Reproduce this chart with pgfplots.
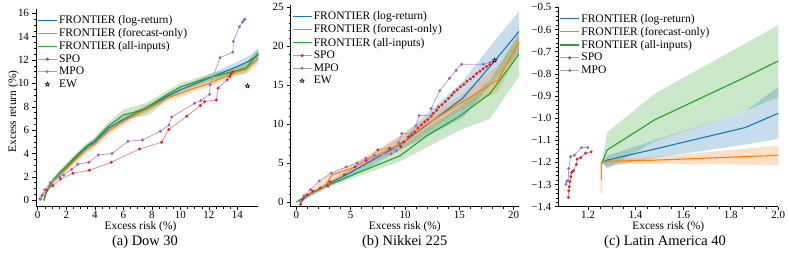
\documentclass[border=0pt]{standalone}
\usepackage{fontspec}
\setmainfont{Liberation Serif}
\usepackage{pgfplots}
\pgfplotsset{compat=1.18}
\definecolor{tblue}{HTML}{1F77B4}
\definecolor{torange}{HTML}{FF7F0E}
\definecolor{tgreen}{HTML}{2CA02C}
\definecolor{tred}{HTML}{D62728}
\definecolor{tpurple}{HTML}{9467BD}
\pgfdeclareplotmark{ewstar}{%
 \pgfpathmoveto{\pgfpointpolar{90}{\pgfplotmarksize}}%
 \pgfpathlineto{\pgfpointpolar{126}{0.42\pgfplotmarksize}}%
 \pgfpathlineto{\pgfpointpolar{162}{\pgfplotmarksize}}%
 \pgfpathlineto{\pgfpointpolar{198}{0.42\pgfplotmarksize}}%
 \pgfpathlineto{\pgfpointpolar{234}{\pgfplotmarksize}}%
 \pgfpathlineto{\pgfpointpolar{270}{0.42\pgfplotmarksize}}%
 \pgfpathlineto{\pgfpointpolar{306}{\pgfplotmarksize}}%
 \pgfpathlineto{\pgfpointpolar{342}{0.42\pgfplotmarksize}}%
 \pgfpathlineto{\pgfpointpolar{18}{\pgfplotmarksize}}%
 \pgfpathlineto{\pgfpointpolar{54}{0.42\pgfplotmarksize}}%
 \pgfpathclose\pgfusepathqfillstroke}
\pgfplotsset{
 mystyle/.style={
  scale only axis,
  axis x line*=bottom, axis y line*=left,
  axis line style={-, line width=0.6pt},
  tick align=outside,
  major tick length=3.5bp, minor tick length=2bp,
  every tick/.style={black, line width=0.5pt},
  tick label style={font=\fontsize{11}{13}\selectfont},
  xticklabel style={inner sep=1pt},
  /pgf/number format/assume math mode=true,
  label style={font=\fontsize{11.5}{13}\selectfont},
  xlabel style={at={(axis description cs:0.5,0)}, anchor=base, inner sep=0pt, yshift=-23bp},
  legend style={at={(0.005,0.975)}, anchor=north west, draw=none, fill=none,
    font=\fontsize{11.6}{13.5}\selectfont, inner sep=0pt, row sep=0.3bp,
    nodes={inner sep=1.6bp}},
  legend cell align=left,
  legend image code/.code={\draw[mark repeat=2,mark phase=2,##1] plot coordinates {(0bp,0bp) (9.5bp,0bp) (19bp,0bp)};},
 },
 fr/.style={line width=1.15pt},
 band/.style={fill=#1, fill opacity=0.25, draw=none, forget plot},
 spo/.style={color=tred!55, line width=0.75pt, mark=*, mark size=1.1pt, mark options={fill=tred, draw=tred}},
 mpo/.style={color=tpurple!70, line width=0.75pt, mark=*, mark size=1.1pt, mark options={fill=tpurple, draw=tpurple}},
 ew/.style={only marks, mark=ewstar, mark size=2.3pt, mark options={fill=gray!25, draw=black, line width=0.5pt}},
}
\begin{document}
\begin{tikzpicture}
\path[use as bounding box] (0,0) rectangle (789bp,253bp);
% ---------------- (a) Dow 30
\begin{axis}[mystyle, at={(36bp,46.3bp)}, anchor=south west,
  width=222.3bp, height=198.1bp,
  xmin=-0.12, xmax=15.46, ymin=-0.55, ymax=16.4,
  xtick={0,2,...,14}, ytick={0,2,...,16}, minor x tick num=3, minor y tick num=3,
  xlabel={Excess risk (\%)}, ylabel={Excess return (\%)},
  xlabel style={at={(axis description cs:0.47,0)}},
  ylabel style={at={(axis description cs:0,0.48)}, anchor=south, yshift=14bp}]
\addplot[band=tblue] coordinates {(0.42,0.1)(0.6,0.85)(1.0,1.75)(1.5,2.45)(2.0,3.05)(2.5,3.7)(3.0,4.3)(3.5,4.85)(4.0,5.25)(4.5,5.85)(5.0,6.45)(6.0,7.15)(7.0,7.75)(8.0,8.35)(9.0,9.1)(10.0,9.7)(11.0,10.2)(12.0,10.75)(13.0,11.3)(14.0,11.85)(14.8,12.35)(15.46,12.9)
 (15.46,12.0)(14.8,11.45)(14.0,11.05)(13.0,10.6)(12.0,10.15)(11.0,9.7)(10.0,9.2)(9.0,8.6)(8.0,7.85)(7.0,7.25)(6.0,6.65)(5.0,5.95)(4.5,5.35)(4.0,4.75)(3.5,4.35)(3.0,3.8)(2.5,3.2)(2.0,2.55)(1.5,1.95)(1.0,1.35)(0.6,0.55)(0.42,-0.1)};
\addplot[band=torange] coordinates {(0.42,0.1)(0.6,0.8)(1.0,1.7)(1.5,2.4)(2.0,2.95)(2.5,3.6)(3.0,4.15)(3.5,4.7)(4.0,5.1)(4.5,5.7)(5.0,6.25)(6.0,7.05)(7.0,7.75)(8.0,8.35)(9.0,9.0)(10.0,9.45)(11.0,9.9)(12.0,10.3)(13.0,10.8)(14.0,11.35)(14.6,11.6)(15.46,12.55)
 (15.46,11.65)(14.6,10.8)(14.0,10.65)(13.0,10.2)(12.0,9.7)(11.0,9.3)(10.0,8.85)(9.0,8.4)(8.0,7.75)(7.0,7.15)(6.0,6.45)(5.0,5.65)(4.5,5.1)(4.0,4.5)(3.5,4.1)(3.0,3.55)(2.5,3.0)(2.0,2.45)(1.5,1.9)(1.0,1.3)(0.6,0.5)(0.42,-0.1)};
\addplot[band=tgreen] coordinates {(0.45,0.1)(0.6,0.85)(1.0,1.8)(1.5,2.55)(2.0,3.15)(2.5,3.8)(3.0,4.4)(3.5,4.95)(4.0,5.4)(4.5,6.1)(5.0,6.75)(6.0,7.75)(7.0,8.1)(7.5,8.3)(8.0,8.6)(9.0,9.35)(10.0,10.0)(11.0,10.4)(12.0,10.8)(13.0,11.1)(14.0,11.45)(14.6,11.7)(15.46,13.05)
 (15.46,12.15)(14.6,10.9)(14.0,10.75)(13.0,10.5)(12.0,10.2)(11.0,9.8)(10.0,9.4)(9.0,8.6)(8.0,7.5)(7.5,7.2)(7.0,7.15)(6.0,6.85)(5.0,6.05)(4.5,5.5)(4.0,4.8)(3.5,4.45)(3.0,3.9)(2.5,3.3)(2.0,2.65)(1.5,2.05)(1.0,1.4)(0.6,0.55)(0.45,-0.1)};
\addplot[fr, tblue] coordinates {(0.42,0.0)(0.6,0.7)(1.0,1.55)(1.5,2.2)(2.0,2.8)(2.5,3.45)(3.0,4.05)(3.5,4.6)(4.0,5.0)(4.5,5.6)(5.0,6.2)(6.0,6.9)(7.0,7.5)(8.0,8.1)(9.0,8.85)(10.0,9.45)(11.0,9.95)(12.0,10.45)(13.0,10.95)(14.0,11.45)(14.8,11.9)(15.46,12.45)};
\addlegendentry{FRONTIER (log-return)}
\addplot[fr, torange] coordinates {(0.42,0.0)(0.6,0.65)(1.0,1.5)(1.5,2.15)(2.0,2.7)(2.5,3.3)(3.0,3.85)(3.5,4.4)(4.0,4.8)(4.5,5.4)(5.0,5.95)(6.0,6.75)(7.0,7.45)(8.0,8.05)(9.0,8.7)(10.0,9.15)(11.0,9.6)(12.0,10.0)(13.0,10.5)(14.0,11.0)(14.6,11.2)(15.46,12.1)};
\addlegendentry{FRONTIER (forecast-only)}
\addplot[fr, tgreen] coordinates {(0.45,0.0)(0.6,0.7)(1.0,1.6)(1.5,2.3)(2.0,2.9)(2.5,3.55)(3.0,4.15)(3.5,4.7)(4.0,5.1)(4.5,5.8)(5.0,6.4)(6.0,7.3)(7.0,7.6)(7.5,7.8)(8.0,8.2)(9.0,9.0)(10.0,9.7)(11.0,10.1)(12.0,10.5)(13.0,10.8)(14.0,11.1)(14.6,11.3)(15.46,12.6)};
\addlegendentry{FRONTIER (all-inputs)}
\addplot[spo] coordinates {(0.16,0.1)(0.3,0.4)(0.64,0.88)(1.06,1.25)(1.6,1.82)(2.47,2.31)(3.62,2.57)(5.15,3.25)(7.13,4.39)(8.68,4.96)(9.18,6.05)(10.45,7.19)(11.39,8.1)(11.69,8.44)(12.52,8.58)(12.64,9.6)(13.27,10.3)(13.46,10.6)(13.55,10.8)(13.65,11.0)};
\addlegendentry{SPO}
\addplot[mpo] coordinates {(0.2,0.1)(0.33,0.45)(0.5,0.9)(0.87,1.5)(1.53,2.0)(1.81,2.17)(2.38,2.65)(2.8,3.08)(3.58,3.25)(4.24,3.88)(5.2,4.0)(6.33,5.05)(7.34,5.16)(8.59,5.9)(9.2,6.44)(9.39,7.13)(10.99,8.3)(11.44,8.53)(12.05,9.07)(12.08,9.9)(12.78,12.2)(13.67,12.66)(13.71,13.6)(14.14,14.85)(14.35,15.25)(14.46,15.43)(14.53,15.5)};
\addlegendentry{MPO}
\addplot[ew] coordinates {(14.7,9.78)};
\addlegendentry{EW}
\end{axis}
% ---------------- (b) Nikkei 225
\begin{axis}[mystyle, at={(290.7bp,46.3bp)}, anchor=south west,
  width=228.3bp, height=201.7bp,
  xmin=-0.52, xmax=20.49, ymin=-0.6, ymax=25.3,
  xtick={0,5,...,20}, ytick={0,5,...,25}, minor x tick num=4, minor y tick num=4,
  xlabel={Excess risk (\%)}]
\addplot[band=tblue] coordinates {(0.5,0.4)(3,2.7)(5,4.3)(10,8.8)(15.3,15.5)(18.3,20.8)(20.49,24.5)(20.49,19.2)(18.3,15.8)(15.3,10.8)(10,7.0)(5,3.2)(3,2.0)(0.5,0)};
\addplot[band=torange] coordinates {(0.5,0.4)(3.3,3.9)(5,4.8)(8,7.2)(10,9.0)(15,13.6)(18.55,17.5)(20.49,21.8)(20.49,19.2)(18.55,14.2)(15,11.7)(10,7.1)(5,3.8)(3.3,3.0)(0.5,0.1)};
\addplot[band=tgreen] coordinates {(0,0.1)(3,2.5)(9.5,7.0)(12,9.5)(15,12.2)(17.8,15.6)(20.49,21.5)(20.49,16.1)(17.8,10.7)(15,9.2)(9.5,5.2)(3,2.0)(0,-0.1)};
\addplot[fr, tblue] coordinates {(0.5,0.2)(1,0.8)(2,1.6)(3,2.4)(5,3.8)(7,5.4)(9,6.9)(10,7.8)(12,9.9)(15.3,13.3)(18.3,18.2)(20.49,21.9)};
\addlegendentry{FRONTIER (log-return)}
\addplot[fr, torange] coordinates {(0.5,0.3)(1,0.9)(2,1.5)(2.7,2.2)(3.3,3.5)(5,4.3)(7,5.7)(9,7.1)(10,7.9)(12,10.0)(15,12.6)(18.55,15.7)(20.49,20.5)};
\addlegendentry{FRONTIER (forecast-only)}
\addplot[fr, tgreen] coordinates {(0,0)(1.5,1.3)(3,2.2)(5,3.4)(9.5,5.9)(12,8.5)(15,11.0)(17.8,13.9)(20.49,19.0)};
\addlegendentry{FRONTIER (all-inputs)}
\addplot[spo] coordinates {(0.4,-0.3)(0.55,0.3)(0.7,0.6)(1.0,0.9)(1.5,1.4)(2.2,1.8)(2.9,2.05)(3.1,2.6)(4.4,3.5)(5.4,4.5)(6.4,5.3)(7.5,6.7)(8.6,6.9)(9.6,7.1)(9.9,7.7)(10.3,8.4)(10.6,8.6)(10.9,9.0)(11.2,9.5)(11.5,9.9)(11.8,10.3)(12.1,10.6)(12.4,11.0)(12.6,11.4)(12.9,11.8)(13.1,12.2)(13.4,12.5)(13.7,12.9)(14.0,13.3)(14.3,13.7)(14.5,14.1)(14.8,14.4)(15.1,14.8)(15.4,15.1)(15.7,15.5)(16.0,15.8)(16.3,16.1)(16.6,16.5)(16.9,16.8)(17.2,17.1)(17.5,17.4)(17.8,17.7)(18.1,18.0)(18.3,18.2)};
\addlegendentry{SPO}
\addplot[mpo] coordinates {(0.4,0.0)(0.7,0.8)(1.3,1.6)(2.1,2.7)(3.2,3.7)(4.6,4.5)(5.6,5.0)(6.4,5.6)(7.2,6.0)(8.7,6.2)(9.2,6.6)(9.4,7.6)(9.7,8.8)(10.6,8.8)(11.0,9.8)(11.3,11.1)(12.4,11.1)(12.4,12.0)(13.2,14.3)(14.1,15.9)(14.7,16.9)(15.2,17.7)(17.2,17.7)(17.8,17.9)(18.3,18.2)};
\addlegendentry{MPO}
\addplot[ew] coordinates {(18.25,18.2)};
\addlegendentry{EW}
\end{axis}
% ---------------- (c) Latin America 40
\begin{axis}[mystyle, at={(558.3bp,46.3bp)}, anchor=south west,
  width=220bp, height=199.4bp,
  xmin=1.075, xmax=2.0, ymin=-1.4, ymax=-0.5,
  xtick={1.2,1.4,1.6,1.8,2.0}, minor x tick num=3,
  xticklabel style={/pgf/number format/.cd, fixed, fixed zerofill, precision=1},
  ytick={-1.4,-1.3,-1.2,-1.1,-1.0,-0.9,-0.8,-0.7,-0.6,-0.5},
  yticklabels={−1.4,−1.3,−1.2,−1.1,−1.0,−0.9,−0.8,−0.7,−0.6,−0.5},
  minor y tick num=4,
  xlabel={Excess risk (\%)}]
\addplot[band=tgreen] coordinates {(1.259,-1.2)(1.28,-1.065)(1.48,-0.89)(1.86,-0.664)(2.0,-0.581)(2.0,-0.904)(1.86,-0.968)(1.48,-1.105)(1.28,-1.228)};
\addplot[band=tblue] coordinates {(1.259,-1.2)(1.28,-1.17)(1.48,-1.10)(1.86,-0.97)(2.0,-0.858)(2.0,-1.094)(1.86,-1.12)(1.48,-1.18)(1.28,-1.22)};
\addplot[band=torange] coordinates {(1.252,-1.2)(1.26,-1.19)(1.48,-1.175)(2.0,-1.124)(2.0,-1.212)(1.48,-1.205)(1.26,-1.21)(1.26,-1.34)(1.252,-1.34)};
\addplot[fr, tblue] coordinates {(1.259,-1.2)(1.28,-1.19)(1.48,-1.14)(1.86,-1.043)(2.0,-0.978)};
\addlegendentry{FRONTIER (log-return)}
\addplot[fr, torange] coordinates {(1.256,-1.28)(1.256,-1.2)(1.28,-1.195)(1.48,-1.19)(2.0,-1.168)};
\addlegendentry{FRONTIER (forecast-only)}
\addplot[fr, tgreen] coordinates {(1.259,-1.2)(1.28,-1.144)(1.48,-1.008)(1.86,-0.816)(2.0,-0.742)};
\addlegendentry{FRONTIER (all-inputs)}
\addplot[spo] coordinates {(1.117,-1.358)(1.119,-1.328)(1.121,-1.31)(1.124,-1.287)(1.128,-1.264)(1.131,-1.245)(1.138,-1.237)(1.151,-1.209)(1.154,-1.185)(1.169,-1.179)(1.19,-1.158)(1.213,-1.152)};
\addlegendentry{SPO}
\addplot[mpo] coordinates {(1.107,-1.299)(1.111,-1.285)(1.116,-1.283)(1.119,-1.228)(1.127,-1.174)(1.142,-1.168)(1.173,-1.133)(1.199,-1.133)};
\addlegendentry{MPO}
\end{axis}
\node[font=\fontsize{14.5}{16}\selectfont, anchor=base] at (145bp,7.6bp) {(a) Dow 30};
\node[font=\fontsize{14.5}{16}\selectfont, anchor=base] at (404.7bp,7.6bp) {(b) Nikkei 225};
\node[font=\fontsize{14.5}{16}\selectfont, anchor=base] at (665bp,7.6bp) {(c) Latin America 40};
\end{tikzpicture}
\end{document}
